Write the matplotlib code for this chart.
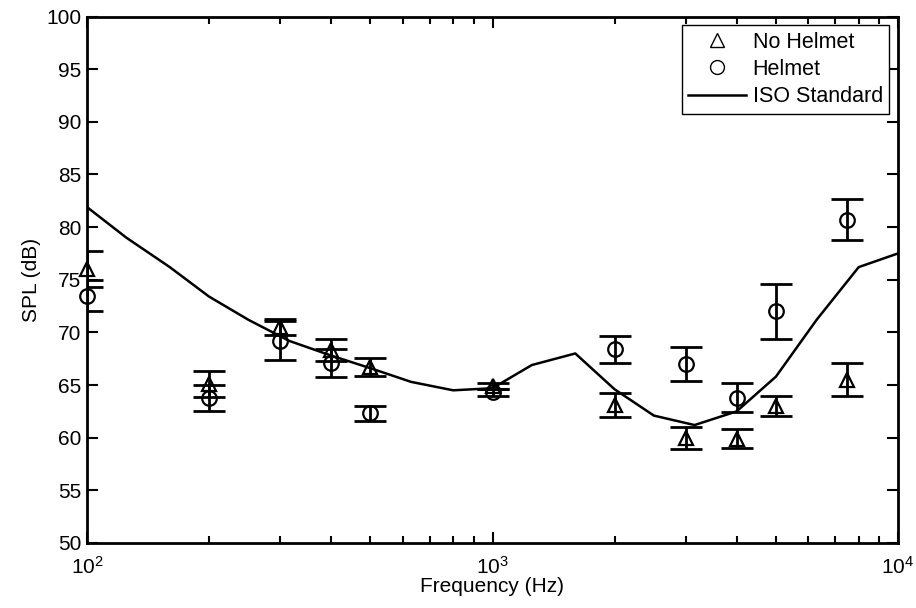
import matplotlib
matplotlib.use("Agg")
import matplotlib.pyplot as plt
from matplotlib.lines import Line2D
from matplotlib.ticker import LogLocator, FixedLocator

plt.rcParams['font.family'] = ['Liberation Sans', 'DejaVu Sans']
plt.rcParams['mathtext.fontset'] = 'custom'
plt.rcParams['mathtext.rm'] = 'Liberation Sans'
plt.rcParams['mathtext.it'] = 'Liberation Sans'
plt.rcParams['mathtext.bf'] = 'Liberation Sans'

# ---- data ----
freqs = [100, 200, 300, 400, 500, 1000, 2000, 3000, 4000, 5000, 7500]
no_helmet = [76.0, 65.1, 70.5, 68.3, 66.7, 64.9, 63.1, 60.0, 59.9, 63.0, 65.5]
no_helmet_err = [1.7, 1.2, 0.75, 1.05, 0.85, 0.3, 1.1, 1.05, 0.9, 0.95, 1.55]
helmet = [73.5, 63.8, 69.2, 67.1, 62.3, 64.3, 68.4, 67.0, 63.8, 72.0, 80.7]
helmet_err = [1.5, 1.25, 1.85, 1.35, 0.75, 0.35, 1.3, 1.65, 1.35, 2.6, 1.95]

iso_freqs = [100, 125, 160, 200, 250, 315, 400, 500, 630, 800, 1000, 1250,
             1600, 2000, 2500, 3150, 4000, 5000, 6300, 8000, 10000]
iso_spl = [81.9, 79.0, 76.2, 73.4, 71.2, 69.2, 67.8, 66.6, 65.3, 64.5, 64.7,
           66.9, 68.0, 64.6, 62.1, 61.2, 62.5, 65.8, 71.2, 76.2, 77.5]

series_labels = ['No Helmet', 'Helmet', 'ISO Standard']
y_ticks = [50, 55, 60, 65, 70, 75, 80, 85, 90, 95, 100]

FS = 15

fig = plt.figure(figsize=(9.16, 6.08), dpi=100)
ax = fig.add_axes([87/916, 1-543/608, (898-87)/916, (543-16.5)/608])

common = dict(fmt='none', ecolor='black', elinewidth=2.0, capsize=11.5, capthick=2.0)
for y, e, m, ms in [(no_helmet, no_helmet_err, '^', 10), (helmet, helmet_err, 'o', 10.5)]:
    ax.errorbar(freqs, y, yerr=e, **common)
    ax.plot(freqs, y, linestyle='none', marker=m, markersize=ms, markerfacecolor='none',
            markeredgecolor='black', markeredgewidth=1.6, clip_on=False, zorder=3)

ax.plot(iso_freqs, iso_spl, color='black', linewidth=1.8)

ax.set_xscale('log')
ax.set_xlim(100, 10000)
ax.set_ylim(50, 100)
ax.yaxis.set_major_locator(FixedLocator(y_ticks))
ax.xaxis.set_major_locator(LogLocator(base=10, numticks=10))
ax.xaxis.set_minor_locator(LogLocator(base=10, subs=range(2, 10), numticks=20))
ax.xaxis.set_minor_formatter(plt.NullFormatter())

ax.tick_params(which='both', direction='in', top=True, right=True, labelsize=FS,
               width=1.5, colors='black')
ax.tick_params(which='major', length=8)
ax.tick_params(which='minor', length=5)
ax.tick_params(axis='x', which='major', pad=9)
ax.tick_params(axis='y', which='major', pad=4)
for s in ax.spines.values():
    s.set_linewidth(2.0)

ax.set_xlabel('Frequency (Hz)', fontsize=FS, labelpad=0)
ax.set_ylabel('SPL (dB)', fontsize=FS, labelpad=4)

handles = [
    Line2D([], [], linestyle='none', marker='^', markersize=10, markerfacecolor='none',
           markeredgecolor='black', markeredgewidth=1.0),
    Line2D([], [], linestyle='none', marker='o', markersize=10, markerfacecolor='none',
           markeredgecolor='black', markeredgewidth=1.0),
    Line2D([], [], color='black', linewidth=1.8),
]
leg = ax.legend(handles, series_labels, loc='upper right', fontsize=FS + 0.5, frameon=True,
                fancybox=False, framealpha=1, edgecolor='black', handlelength=2.7,
                borderaxespad=0.4, labelspacing=0.3, handletextpad=0.3,
                borderpad=0.3)
leg.get_frame().set_linewidth(1.0)

fig.savefig('out.png', dpi=100)
